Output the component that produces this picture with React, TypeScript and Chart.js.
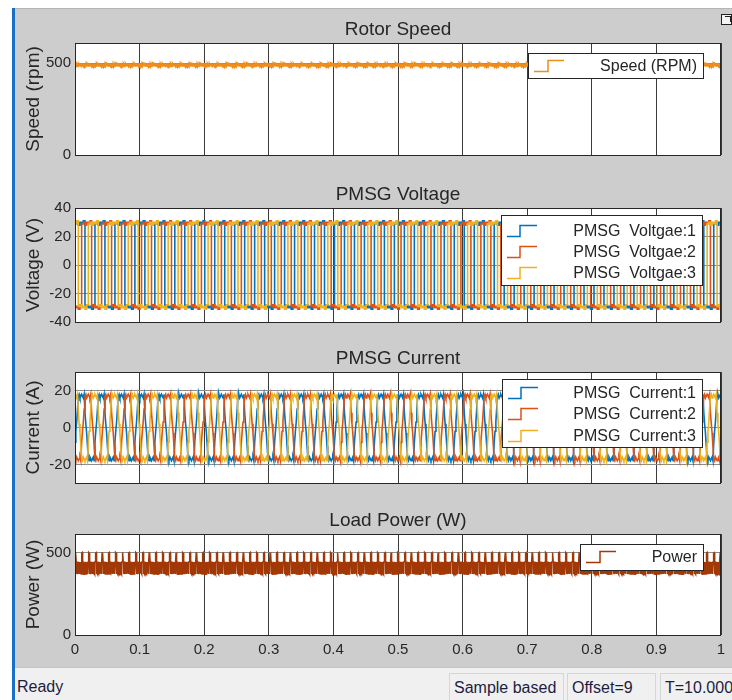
import React, { useEffect, useRef } from "react";
import { Chart, registerables } from "chart.js";

Chart.register(...registerables);

// ---------------- data ----------------
const xTicks = [0, 0.1, 0.2, 0.3, 0.4, 0.5, 0.6, 0.7, 0.8, 0.9, 1];
const xTickLabels = ["0", "0.1", "0.2", "0.3", "0.4", "0.5", "0.6", "0.7", "0.8", "0.9", "1"];

const panelTitles = ["Rotor Speed", "PMSG Voltage", "PMSG Current", "Load Power (W)"];
const yAxisTitles = ["Speed (rpm)", "Voltage (V)", "Current (A)", "Power (W)"];

const speedTicks = [0, 500];
const voltageTicks = [-40, -20, 0, 20, 40];
const currentTicks = [-20, 0, 20];
const powerTicks = [0, 500];

const speedRange = [0, 610];
const voltageRange = [-40, 40];
const currentRange = [-30, 30];
const powerRange = [0, 615];

const speedSeriesNames = ["Speed (RPM)"];
const voltageSeriesNames = ["PMSG  Voltgae:1", "PMSG  Voltgae:2", "PMSG  Voltgae:3"];
const currentSeriesNames = ["PMSG  Current:1", "PMSG  Current:2", "PMSG  Current:3"];
const powerSeriesNames = ["Power"];

const timeSpan = 1.0; // s
const electricalPeriod = 0.0309; // s, ~20 px per cycle in the picture
const phaseLagFractions = [0, 1 / 3, 2 / 3]; // phases 1, 2, 3

// speed: ~490 rpm with a small fast ripple
const speedRipplePeriod = 0.0052;
const speedRippleShape = [490, 492, 488, 491, 493, 489, 490, 487];

// voltage: one electrical period, 12 steps, plateaus at about +/-29 V
const voltagePeriodShape = [29, 30, 28, 30, 29, 31, -29, -28, -30, -29, -31, -28];

// current: one electrical period, 24 steps, plateaus at about +/-17 A
const currentPeriodShape = [
  -8, -2, 3, 10, 17, 18, 16, 17, 18, 17, 16, 18,
  8, 2, -3, -10, -17, -18, -16, -17, -18, -17, -16, -18,
];

// load power: band 370..445 W with spikes up to ~500 W
const powerRipplePeriod = 0.0104;
const powerRippleShape = [
  446, 499, 502, 498, 501, 447, 372, 441, 376, 447, 370, 443, 378, 440,
  373, 446, 375, 442, 371, 445, 377, 439, 374, 444, 379, 441, 372, 445,
];

// ---------------- helpers ----------------
function tileShape(shape: number[], period: number, lagFraction = 0) {
  const n = shape.length;
  const dt = period / n;
  const lag = Math.round(n * lagFraction);
  const count = Math.ceil(timeSpan / dt);
  const pts: { x: number; y: number }[] = [];
  for (let k = 0; k <= count; k++) {
    pts.push({ x: k * dt, y: shape[(((k - lag) % n) + n) % n] });
  }
  return pts;
}

const FONT = '"Liberation Sans", Arial, Helvetica, sans-serif';
const TEXT = "#262626";
const phaseColors = ["#0072bd", "#d95319", "#edb120"];

type Legend = { x: number; y: number; w: number; h: number; rows: number[]; step: number };

const layouts = [
  { top: 43, bottom: 155, legend: { x: 528, y: 53, w: 176, h: 26, rows: [66], step: 20 } },
  { top: 208, bottom: 322, legend: { x: 501, y: 215, w: 202, h: 71, rows: [231, 252, 273], step: 19 } },
  { top: 372, bottom: 483, legend: { x: 502, y: 379, w: 201, h: 69, rows: [393, 414, 436], step: 19 } },
  { top: 534, bottom: 635, legend: { x: 580, y: 544, w: 124, h: 27, rows: [557], step: 20 } },
];

function buildPanels() {
  return [
    {
      title: panelTitles[0],
      yTitle: yAxisTitles[0],
      ticks: speedTicks,
      range: speedRange,
      datasets: [
        {
          label: speedSeriesNames[0],
          data: tileShape(speedRippleShape, speedRipplePeriod),
          borderColor: "#ef8d1c",
          borderWidth: 2.2,
        },
      ],
      showX: false,
    },
    {
      title: panelTitles[1],
      yTitle: yAxisTitles[1],
      ticks: voltageTicks,
      range: voltageRange,
      datasets: voltageSeriesNames.map((name, i) => ({
        label: name,
        data: tileShape(voltagePeriodShape, electricalPeriod, phaseLagFractions[i]),
        borderColor: phaseColors[i],
        borderWidth: 1.6,
        stepped: true,
        order: 3 - i,
      })),
      showX: false,
    },
    {
      title: panelTitles[2],
      yTitle: yAxisTitles[2],
      ticks: currentTicks,
      range: currentRange,
      datasets: currentSeriesNames.map((name, i) => ({
        label: name,
        data: tileShape(currentPeriodShape, electricalPeriod, phaseLagFractions[i]),
        borderColor: phaseColors[i],
        borderWidth: 1.6,
        order: 3 - i,
      })),
      showX: false,
    },
    {
      title: panelTitles[3],
      yTitle: yAxisTitles[3],
      ticks: powerTicks,
      range: powerRange,
      datasets: [
        {
          label: powerSeriesNames[0],
          data: tileShape(powerRippleShape, powerRipplePeriod),
          borderColor: "#a23806",
          borderWidth: 1.5,
        },
      ],
      showX: true,
    },
  ];
}

const scopeDecor = {
  id: "scopeDecor",
  beforeDraw(chart: any) {
    const { ctx, chartArea: a } = chart;
    ctx.save();
    ctx.fillStyle = "#ffffff";
    ctx.fillRect(a.left, a.top, a.right - a.left, a.bottom - a.top);
    ctx.restore();
  },
  afterDatasetsDraw(chart: any, _args: any, opts: any) {
    const { ctx, chartArea: a } = chart;
    ctx.save();
    // axes box
    ctx.strokeStyle = TEXT;
    ctx.lineWidth = 1;
    ctx.strokeRect(a.left + 0.5, a.top + 0.5, a.right - a.left - 1, a.bottom - a.top);
    // title
    ctx.fillStyle = TEXT;
    ctx.font = `19px ${FONT}`;
    ctx.textAlign = "center";
    ctx.textBaseline = "middle";
    ctx.fillText(opts.title, (a.left + a.right) / 2, a.top - 13);
    // legend
    const lg: Legend = opts.legend;
    ctx.fillStyle = "#ffffff";
    ctx.fillRect(lg.x, lg.y, lg.w, lg.h);
    ctx.strokeStyle = TEXT;
    ctx.strokeRect(lg.x + 0.5, lg.y + 0.5, lg.w - 1, lg.h - 1);
    const dsets = chart.data.datasets;
    dsets.forEach((ds: any, i: number) => {
      const cy = lg.rows[i];
      ctx.strokeStyle = ds.borderColor;
      ctx.lineWidth = 1.5;
      ctx.beginPath();
      ctx.moveTo(lg.x + 6, cy + 5.5);
      ctx.lineTo(lg.x + lg.step, cy + 5.5);
      ctx.lineTo(lg.x + lg.step, cy - 5.5);
      ctx.lineTo(lg.x + 36, cy - 5.5);
      ctx.stroke();
      ctx.fillStyle = TEXT;
      ctx.font = `16px ${FONT}`;
      ctx.textAlign = "right";
      ctx.textBaseline = "middle";
      ctx.fillText(ds.label, lg.x + lg.w - 7, cy + 1);
    });
    ctx.restore();
  },
};

function ScopePanel({ panel, layout }: { panel: any; layout: any }) {
  const ref = useRef<HTMLCanvasElement | null>(null);
  useEffect(() => {
    if (!ref.current) return;
    const xH = panel.showX ? 30 : 0;
    const chart = new Chart(ref.current, {
      type: "line",
      data: { datasets: panel.datasets.map((d: any) => ({ ...d, pointRadius: 0, tension: 0, fill: false })) },
      options: {
        responsive: false,
        maintainAspectRatio: false,
        animation: false,
        devicePixelRatio: 1,
        parsing: false,
        normalized: true,
        events: [],
        layout: { padding: { left: 0, right: 11, top: layout.top, bottom: 700 - layout.bottom - xH } },
        plugins: {
          legend: { display: false },
          tooltip: { enabled: false },
          title: { display: false },
          scopeDecor: { title: panel.title, legend: layout.legend },
        } as any,
        scales: {
          x: {
            type: "linear",
            min: 0,
            max: 1,
            afterBuildTicks: (s: any) => {
              s.ticks = xTicks.map((v) => ({ value: v }));
            },
            afterFit: (s: any) => {
              s.height = xH;
            },
            ticks: {
              display: panel.showX,
              autoSkip: false,
              maxRotation: 0,
              padding: 6,
              color: TEXT,
              font: { family: FONT, size: 15 },
              callback: (_v: any, i: number) => xTickLabels[i],
            },
            grid: { color: "#3c3c3c", lineWidth: 1, drawTicks: false },
            border: { display: false },
          },
          y: {
            type: "linear",
            min: panel.range[0],
            max: panel.range[1],
            afterBuildTicks: (s: any) => {
              s.ticks = panel.ticks.map((v: number) => ({ value: v }));
            },
            afterFit: (s: any) => {
              s.width = 75;
            },
            ticks: {
              padding: 4,
              color: TEXT,
              font: { family: FONT, size: 15 },
              callback: (v: any) => String(v),
            },
            grid: { color: "#8c8c8c", lineWidth: 1, drawTicks: false },
            border: { display: false },
            title: {
              display: true,
              text: panel.yTitle,
              color: TEXT,
              font: { family: FONT, size: 19 },
              padding: { top: 22, bottom: 0 },
            },
          },
        },
      } as any,
      plugins: [scopeDecor],
    });
    return () => chart.destroy();
  }, []);
  return (
    <canvas
      ref={ref}
      width={732}
      height={700}
      style={{ position: "absolute", left: 0, top: 0, width: 732, height: 700 }}
    />
  );
}

export default function App() {
  const panels = buildPanels();
  const statusText = { color: "#1d1d40", fontSize: 16, fontFamily: FONT };
  return (
    <div
      style={{
        position: "fixed",
        left: 0,
        top: 0,
        width: 732,
        height: 700,
        background: "#cdcdcd",
        overflow: "hidden",
        fontFamily: FONT,
      }}
    >
      <div style={{ position: "absolute", left: 0, top: 0, width: 732, height: 8, background: "#ffffff", borderBottom: "1px solid #b4b4b4" }} />
      <div style={{ position: "absolute", left: 0, top: 0, width: 12, height: 700, background: "#ffffff" }} />
      <div style={{ position: "absolute", left: 12, top: 8, width: 3, height: 692, background: "#1b6fc6" }} />
      <div style={{ position: "absolute", left: 721, top: 14, width: 9, height: 9, border: "1px solid #222", background: "#f4f4f4" }}>
        <div style={{ position: "absolute", left: 3, top: 1, width: 5, height: 5, borderTop: "1px solid #222", borderRight: "1px solid #222" }} />
      </div>
      {panels.map((p, i) => (
        <ScopePanel key={i} panel={p} layout={layouts[i]} />
      ))}
      <div
        style={{
          position: "absolute",
          left: 15,
          top: 667,
          width: 717,
          height: 33,
          background: "#f0f0f0",
          borderTop: "1px solid #c4c4c4",
          boxSizing: "border-box",
        }}
      />
      <div style={{ position: "absolute", left: 17, top: 678, ...statusText }}>Ready</div>
      <div style={{ position: "absolute", left: 449, top: 673, width: 115, height: 30, border: "1px solid #d6d6d6", boxSizing: "border-box", paddingLeft: 4, paddingTop: 5, ...statusText }}>Sample based</div>
      <div style={{ position: "absolute", left: 567, top: 673, width: 89, height: 30, border: "1px solid #d6d6d6", boxSizing: "border-box", paddingLeft: 4, paddingTop: 5, ...statusText }}>Offset=9</div>
      <div style={{ position: "absolute", left: 660, top: 673, width: 80, height: 30, border: "1px solid #d6d6d6", boxSizing: "border-box", paddingLeft: 4, paddingTop: 5, whiteSpace: "nowrap", ...statusText }}>T=10.000</div>
    </div>
  );
}
